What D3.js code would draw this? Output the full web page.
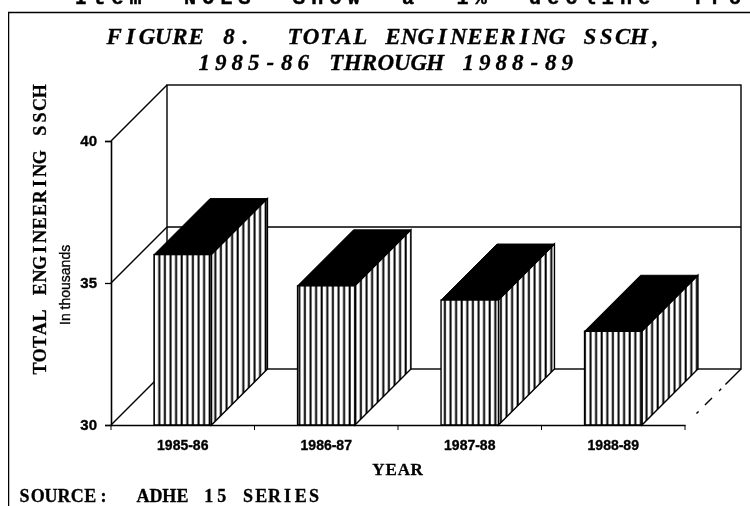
<!DOCTYPE html>
<html>
<head>
<meta charset="utf-8">
<script src="https://cdn.jsdelivr.net/npm/d3@7"></script>
<style>
html,body{margin:0;padding:0;background:#fff}
svg{display:block}
text{fill:#000;stroke:none}
.mono{font-family:"Liberation Mono",monospace;font-weight:700;stroke:#000;stroke-width:.5px}
.slab{font-family:"Liberation Serif",serif;font-weight:700;stroke:#000;stroke-width:.3px;text-anchor:middle}
.sans{font-family:"Liberation Sans",Arial,sans-serif;font-weight:700;stroke:#000;stroke-width:.35px}
</style>
</head>
<body>
<script>
const years = ["1985-86","1986-87","1987-88","1988-89"];
const ssch = [36.0,34.9,34.4,33.3];
const yTicks = [30,35,40];
const title1 = "FIGURE 8.  TOTAL ENGINEERING SSCH,";
const title2 = "1985-86 THROUGH 1988-89";
const yTitle = "TOTAL ENGINEERING SSCH";
const ySub = "In thousands";
const xTitle = "YEAR";
const source = "SOURCE:  ADHE 15 SERIES";
const overText = "Item NOES Show a 1% decline fro";

const W=750,H=506;
const svg=d3.select("body").append("svg").attr("width",W).attr("height",H);
const defs=svg.append("defs");
const f=defs.append("filter").attr("id","scan").attr("x",0).attr("y",0).attr("width",1).attr("height",1);
f.append("feGaussianBlur").attr("stdDeviation",0.35);
const hat=defs.append("pattern").attr("id","hatch").attr("patternUnits","userSpaceOnUse")
  .attr("width",5.6).attr("height",10);
hat.append("rect").attr("width",5.6).attr("height",10).attr("fill","#fff");
hat.append("rect").attr("x",1.5).attr("width",2).attr("height",10).attr("fill","#000");

const root=svg.append("g").attr("filter","url(#scan)");
const x=d3.scaleBand().domain(years).range([111,685]).paddingInner(0.6).paddingOuter(0.3);
const xEdges=d3.scaleLinear().domain([0,years.length]).range([111,685]);
const y=d3.scaleLinear().domain([30,40]).range([425,141]);
const dx=56,dy=-56;

// typewriter-pitch text: every glyph is centred in a fixed-width cell
function pitched(s,size,pitch,transform,italic){
  const t=root.append("text").attr("class","slab").attr("font-size",size)
    .attr("transform",transform).style("white-space","pre")
    .attr("x",Array.from(s,(c,i)=>((i+0.5)*pitch).toFixed(1)).join(" ")).attr("y",0).text(s);
  if(italic) t.attr("font-style","italic");
  return t;
}

// page frame
root.append("path").attr("d",`M8.5,506V12.5H750`).attr("fill","none").attr("stroke","#000").attr("stroke-width",1.5);

// clipped line of running text from the page above
root.append("text").attr("class","mono").attr("x",75).attr("y",3.5)
  .attr("font-size",20).attr("letter-spacing",6.2).attr("word-spacing",18).text(overText);

// titles
pitched(title1,23,16.4,"translate(106,44)",true);
pitched(title2,23,16.5,"translate(196,70)",true);

// back wall and 35 gridline
const wall=root.append("g").attr("fill","none").attr("stroke","#000").attr("stroke-width",1.4);
wall.append("rect").attr("x",x.range()[0]+dx).attr("y",y(40)+dy).attr("width",x.range()[1]-x.range()[0]).attr("height",y(30)-y(40));
wall.selectAll("line.grid").data(yTicks.slice(1,2)).join("line")
  .attr("x1",x.range()[0]+dx).attr("x2",x.range()[1]+dx).attr("y1",d=>y(d)+dy).attr("y2",d=>y(d)+dy);
// left side wall
wall.selectAll("line.side").data(yTicks).join("line")
  .attr("x1",x.range()[0]).attr("y1",d=>y(d)).attr("x2",x.range()[0]+dx).attr("y2",d=>y(d)+dy);
// floor right edge, broken
wall.append("line").attr("x1",x.range()[1]+dx).attr("y1",y(30)+dy).attr("x2",x.range()[1]).attr("y2",y(30))
  .attr("stroke-dasharray","22 6 3 10 10 9 3 99");

// bars
const bars=root.selectAll("g.bar").data(years.map((d,i)=>({d,v:ssch[i]}))).join("g");
const bw=x.bandwidth();
bars.append("path").attr("fill","url(#hatch)").attr("stroke","#000").attr("stroke-width",1.4)
  .attr("d",b=>{const l=x(b.d)+bw,t=y(b.v),u=y(30);return `M${l},${t}L${l+dx},${t+dy}V${u+dy}L${l},${u}Z`});
bars.append("path").attr("fill","#000").attr("stroke","#000").attr("stroke-width",1)
  .attr("d",b=>{const l=x(b.d),t=y(b.v);return `M${l},${t}L${l+dx},${t+dy}H${l+bw+dx}L${l+bw},${t}Z`});
bars.append("rect").attr("fill","url(#hatch)").attr("stroke","#000").attr("stroke-width",1.4)
  .attr("x",b=>x(b.d)).attr("y",b=>y(b.v)).attr("width",bw).attr("height",b=>y(30)-y(b.v));

// axes
const ya=root.append("g").attr("transform",`translate(${x.range()[0]},0)`)
  .call(d3.axisLeft(y).tickValues(yTicks).tickSize(6).tickPadding(8).tickFormat(d3.format("d")));
ya.selectAll("text").attr("class","sans").attr("font-size",15);
const xa=root.append("g").attr("transform",`translate(0,${y(30)})`)
  .call(d3.axisBottom(x).tickSize(0).tickPadding(15));
xa.selectAll("text").attr("class","sans").attr("font-size",14);
xa.selectAll(".edge").data(d3.range(years.length+1)).join("line").attr("class","edge")
  .attr("x1",d=>xEdges(d)).attr("x2",d=>xEdges(d)).attr("y1",0).attr("y2",5).attr("stroke","#000");
root.selectAll(".domain").attr("stroke-width",1.6).attr("stroke","#000");
root.selectAll(".tick line").attr("stroke-width",1.3).attr("stroke","#000");

// axis titles
pitched(yTitle,18,13.2,"translate(46,375) rotate(-90)",false);
root.append("text").attr("class","sans").attr("transform","translate(70,325) rotate(-90)")
  .attr("font-size",14).style("font-weight",400).text(ySub);
pitched(xTitle,17,12.75,"translate(372,475)",false);
pitched(source,18,13.15,"translate(18,502)",false);
</script>
</body>
</html>
